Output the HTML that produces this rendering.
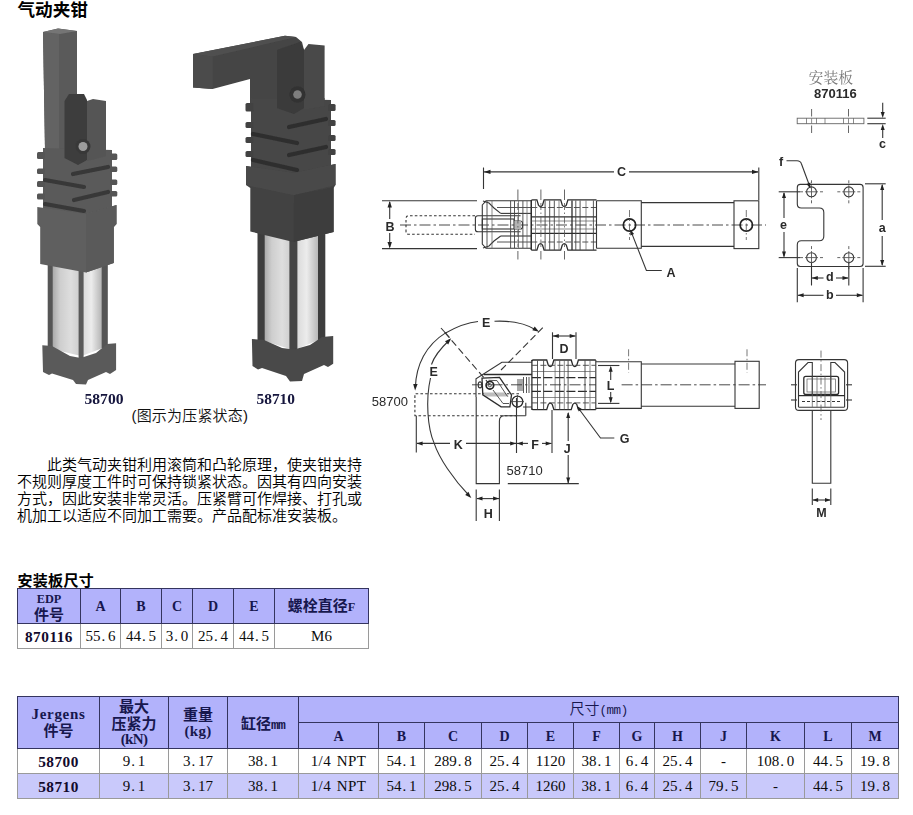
<!DOCTYPE html>
<html lang="zh-CN">
<head>
<meta charset="utf-8">
<title>气动夹钳</title>
<style>
html,body{margin:0;padding:0;background:#fff;}
body{width:913px;height:815px;position:relative;overflow:hidden;font-family:"Liberation Serif","Noto Serif CJK SC",serif;color:#000;}
.abs{position:absolute;white-space:nowrap;}
#title{left:17.5px;top:-2.3px;font:bold 17.6px/24px "Liberation Sans","Noto Sans CJK SC",sans-serif;}
#art{position:absolute;left:0;top:0;width:913px;height:560px;}
#para{position:absolute;left:17px;top:457px;width:350px;font-family:"Liberation Sans","Noto Sans CJK SC",sans-serif;font-weight:350;font-size:15px;line-height:16.9px;white-space:nowrap;letter-spacing:0;}
#cap1{left:17.5px;top:571.5px;letter-spacing:.3px;font:bold 15px/18px "Liberation Sans","Noto Sans CJK SC",sans-serif;}
table{position:absolute;border-collapse:collapse;table-layout:fixed;font:15px/17px "Liberation Serif","Noto Sans CJK SC",serif;color:#0c0c0c;}
td,th{border:1px solid #9a9a9a;padding:0;text-align:center;vertical-align:middle;overflow:hidden;white-space:nowrap;font-weight:normal;}
th{background:#b2b2fb;border-color:#34345e;font-weight:bold;color:#17174e;font-family:"Liberation Serif","Noto Sans CJK SC",serif;}
th.dim{font-weight:350;}
td.b{font-weight:bold;color:#120a2c;letter-spacing:.5px;font-size:15.3px;}
td.npt{letter-spacing:.4px;word-spacing:1.5px;}
.p{display:inline-block;width:7.5px;text-align:left;text-indent:1px;}
.w{position:relative;top:1.3px;}
.w2{position:relative;top:2px;}
.w0{position:relative;top:0;}
th.three{line-height:16.5px;}
.hl{font-size:14px;}
#t1 th.two{line-height:16px;}
.sq{font-size:12.3px;}
.jg{letter-spacing:.7px;}
.kn{letter-spacing:-.7px;position:relative;top:-1.5px;}
.kg{letter-spacing:.3px;position:relative;top:-1px;}
.mm{font:bold 13px "Liberation Mono",monospace;letter-spacing:-.7px;}
.pmm{font:12.5px "Liberation Mono",monospace;letter-spacing:-.4px;}
#t1{left:17px;top:588px;width:351px;}
#t2{left:17px;top:696px;width:881px;}
#t2 tr.alt td{background:#c9c9fb;}
#art path,#art rect,#art circle{vector-effect:none}
#art .ds{stroke-dasharray:2.6 2.2;}
#art .ds2{stroke-dasharray:3 2;}
#art .dl{stroke-dasharray:7 3.5;}
#art .cl{stroke-dasharray:11 3 2.5 3;stroke-width:.9;}
#art .cl2{stroke-dasharray:7 2.5 1.5 2.5;stroke-width:.8;stroke:#555;}
#art .cl3{stroke-dasharray:6 2 1 2;stroke-width:.8;stroke:#555;}
#art .tk{stroke-width:.9;stroke:#555;}
#art .th{stroke-width:.7;stroke:#5a5a5a;}
#art .hv{stroke-width:1.3;stroke:#2c2c2c;}
#art .hv2{stroke-width:1.7;stroke:#222;}
#art .hvd{stroke-width:1.4;stroke:#2c2c2c;stroke-dasharray:9 2.5;}
#art .lt{stroke-width:.9;stroke:#666;}
#art .md{stroke-width:.9;stroke:#444;}
#art .mdd{stroke-width:.9;stroke:#444;stroke-dasharray:6 2.5;}
#art .ah{fill:#222;stroke:none;}
</style>
</head>
<body>
<svg id="art" viewBox="0 0 913 560" width="913" height="560">
<defs>
<linearGradient id="cylA" x1="0" x2="1" y1="0" y2="0"><stop offset="0" stop-color="#a6a6a6"/><stop offset="0.3" stop-color="#cecece"/><stop offset="0.7" stop-color="#dedede"/><stop offset="1" stop-color="#cfcfcf"/></linearGradient>
<linearGradient id="cylB" x1="0" x2="1" y1="0" y2="0"><stop offset="0" stop-color="#dadada"/><stop offset="0.45" stop-color="#ececec"/><stop offset="1" stop-color="#b6b6b6"/></linearGradient>
<filter id="soft" x="-5%" y="-5%" width="110%" height="110%"><feGaussianBlur stdDeviation="0.7"/></filter>
<filter id="soft2" x="-5%" y="-5%" width="110%" height="110%"><feGaussianBlur stdDeviation="0.35"/></filter>
</defs>
<g id="clamp1" filter="url(#soft)">
<!-- arm -->
<polygon points="43,32 58,28.5 77,31 77,150 45,150" fill="#5a5a5a"/>
<polygon points="43,32 59,34 59,150 45,150" fill="#636363"/>
<polygon points="43,32 58,28.5 77,31 60,34" fill="#747474"/>
<!-- finned body -->
<polygon points="43,148 112,150 112,218 43,218" fill="#5a5a5a"/>
<g fill="#545454">
<rect x="37" y="152" width="8" height="7" rx="1.5"/><rect x="37" y="168.5" width="8" height="5.5" rx="1.5"/><rect x="37" y="181" width="8" height="6" rx="1.5"/><rect x="37" y="193.5" width="8" height="6" rx="1.5"/>
<rect x="110" y="153.5" width="7.3" height="6.5" rx="1.5"/><rect x="110" y="166.5" width="7.3" height="5.5" rx="1.5"/><rect x="110" y="179.5" width="7.3" height="5.5" rx="1.5"/><rect x="110" y="191" width="7.3" height="5.5" rx="1.5"/>
</g>
<!-- bracket -->
<polygon points="64.5,101 69,94 84,94 87,100 87,160 78,165 64.5,158" fill="#3c3c3c"/>
<polygon points="87,101 93,99 106,101 106,156 87,161" fill="#555"/>
<circle cx="83" cy="146.5" r="7.5" fill="#383838"/>
<circle cx="83" cy="146.5" r="4.5" fill="#9c9c9c"/>
<g stroke="#383838" stroke-width="4.2" fill="none" stroke-linecap="round">
<path d="M73,174 L108,167"/><path d="M45,180 L84,187"/><path d="M74,200 L108,192"/><path d="M45,204 L84,211"/>
</g>
<!-- cylinder -->
<polygon points="52,262 79,268 79,355.5 52,349" fill="url(#cylA)"/>
<polygon points="83,268 101.5,261 101.5,348.5 83,355.5" fill="url(#cylB)"/>
<rect x="47.7" y="261" width="5" height="88" fill="#555"/>
<rect x="78.6" y="267" width="5" height="92" fill="#5a5a5a"/>
<rect x="101.5" y="260" width="6.3" height="88" fill="#555"/>
<!-- block -->
<polygon points="37.3,207 86,214 116.5,205 116.5,224 113.8,227 113.8,263 86,272.5 40.2,264 40.2,227 37.3,224" fill="#5f5f5f"/>
<polygon points="86,214 116.5,205 116.5,224 113.8,227 113.8,263 86,272.5" fill="#5a5a5a"/>
<!-- base -->
<polygon points="42.3,345.2 52,346 70,356 80.7,358 96,353 107,344 116.1,343.2 116.1,370 110,374 106,372 88,380 86,384.5 76,384 73,380 52,373.5 49,375 43,372" fill="#5a5a5a"/>
</g>
<g id="clamp2" filter="url(#soft)">
<!-- arm -->
<polygon points="193,54 285,35.8 296,37 302,42 304,50 304,104 250,104 250,79 212.5,89 193,87.5" fill="#444"/>
<polygon points="193,54 212.5,56.5 212.5,89 193,87.5" fill="#4c4c4c"/>
<polygon points="193,54 285,35.8 296,37 212.5,56.5" fill="#505050"/>
<polygon points="277,50 300,42 304,50 304,104 277,104" fill="#3a3a3a"/>
<!-- bracket right -->
<polygon points="304,50 308.5,44 324.6,45.5 324.6,106 304,106" fill="#484848"/>
<!-- finned body -->
<polygon points="251,98 331,100 331,178 251,178" fill="#464646"/>
<g fill="#424242">
<rect x="245.5" y="103" width="8" height="8.5" rx="1.5"/><rect x="245.5" y="122" width="8" height="6" rx="1.5"/><rect x="245.5" y="137" width="8" height="6" rx="1.5"/><rect x="245.5" y="151" width="8" height="6" rx="1.5"/>
<rect x="328" y="104" width="7.6" height="7" rx="1.5"/><rect x="328" y="120" width="7.6" height="6" rx="1.5"/><rect x="328" y="135" width="7.6" height="6" rx="1.5"/><rect x="328" y="149" width="7.6" height="6" rx="1.5"/>
</g>
<polygon points="277,98 304,98 304,108 294,114 277,108" fill="#3a3a3a"/>
<polygon points="304,98 324.6,98 324.6,106 304,110" fill="#484848"/>
<circle cx="297.5" cy="94.5" r="8" fill="#303030"/>
<circle cx="297.5" cy="94.5" r="4.3" fill="#7d7d7d"/>
<g stroke="#2e2e2e" stroke-width="4.2" fill="none" stroke-linecap="round">
<path d="M289,127 L326,119"/><path d="M253,134 L297,143"/><path d="M289,155 L326,147"/><path d="M253,160 L297,170"/>
</g>
<!-- cylinder -->
<polygon points="264,231 290,238 290,349 264,341" fill="url(#cylA)"/>
<polygon points="297,238 318.5,232 318.5,340 297,349" fill="url(#cylB)"/>
<rect x="257.5" y="229" width="7.2" height="112" fill="#3e3e3e"/>
<rect x="289.4" y="237" width="8" height="114" fill="#444"/>
<rect x="318" y="230" width="7.3" height="110" fill="#3e3e3e"/>
<!-- block -->
<polygon points="246,166 294,173 335.5,164 335.5,185 333.6,188 333.6,232 293.4,242 250.3,231.5 250.3,188 246,185" fill="#434343"/>
<polygon points="246,166 294,173 335.5,164 335.5,185 294,195 246,185" fill="#4a4a4a"/>
<polygon points="294,195 333.6,187 333.6,232 293.4,242" fill="#3e3e3e"/>
<!-- base -->
<polygon points="251.9,339 264,340 282,348 294,349.5 310,345 322,337 333.2,336 333.2,363.8 328,367 324,365 304,374 302,381 290,381.5 286,376 262,368 258,369.5 252.5,366" fill="#484848"/>
</g>
<g font-family="'Liberation Serif',serif" font-weight="bold" font-size="14" fill="#14143c" filter="url(#soft2)">
<text x="84.5" y="403.8" textLength="39" lengthAdjust="spacingAndGlyphs">58700</text>
<text x="256.5" y="403.8" textLength="38.5" lengthAdjust="spacingAndGlyphs">58710</text>
</g>
<text x="131.5" y="421" font-family="'Liberation Sans','Noto Sans CJK SC',sans-serif" font-weight="350" font-size="15" fill="#111" textLength="116.5" lengthAdjust="spacing">(图示为压紧状态)</text>

<g id="drawing" fill="none" stroke="#363636" stroke-width="1.1" filter="url(#soft2)">
<path d="M382,200.8L477,200.8"/>
<path d="M382,248.6L477,248.6"/>
<path d="M389.7,202L389.7,219"/>
<path d="M389.7,233L389.7,247"/>
<polygon class="ah" points="389.7,201.0 391.9,207.5 387.5,207.5"/>
<polygon class="ah" points="389.7,248.4 387.5,241.9 391.9,241.9"/>
<path class="ds" d="M475,215.7H409Q406,215.7 406,218.7V231.3Q406,234.3 409,234.3H475"/>
<path class="cl" d="M400,225L766,225"/>
<path d="M483.5,167.5L483.5,189"/>
<path d="M758.8,167.5L758.8,200"/>
<path d="M484,171.9L614,171.9"/>
<path d="M629,171.9L758,171.9"/>
<polygon class="ah" points="484.0,171.9 490.5,169.7 490.5,174.1"/>
<polygon class="ah" points="758.5,171.9 752.0,174.1 752.0,169.7"/>
<path d="M482.3,205L486,200.8H531.3V248.3H486L482.3,244Z"/>
<path d="M483,201L489,203L494,208L500.7,213.4"/>
<path d="M483,248L489,246L494,241L500.7,236"/>
<path d="M520.6,215.7H478Q475.4,215.7 475.4,218V229.5Q475.4,231.8 478,231.8H520.6"/>
<rect x="482.3" y="219" width="31.7" height="10"/>
<path d="M514,221H520Q522.5,221 522.5,223V227Q522.5,229 520,229H514"/>
<path d="M500.7,213.4L531,213.4"/>
<path d="M500.7,236L531,236"/>
<path class="md" d="M497,207.5L531,207.5"/>
<path class="md" d="M497,242L531,242"/>
<path class="md" d="M487,201L487,248"/>
<path class="md" d="M510.6,201L510.6,248"/>
<path class="md" d="M514.5,201L514.5,248"/>
<path class="md" d="M522.9,201L522.9,248"/>
<path class="th" d="M492,201L492,248"/>
<path class="th" d="M518.5,201L518.5,248"/>
<path class="th" d="M527,201L527,248"/>
<rect x="514.5" y="221" width="6.5" height="8" fill="#b4b4b4" stroke="none"/>
<path class="hv" d="M531.3,201.1Q531.3,199.9 532.5,199.9H536.9L538.5,205.1Q540.5,208.025 542.5,205.1L544.1,199.9H560.6999999999999L562.3,205.1Q564.3,208.025 566.3,205.1L567.9,199.9H596.5"/>
<path class="hv" d="M531.3,249.0Q531.3,250.2 532.5,250.2H536.9L538.5,245.0Q540.5,242.075 542.5,245.0L544.1,250.2H560.6999999999999L562.3,245.0Q564.3,242.075 566.3,245.0L567.9,250.2H596.5"/>
<path class="hv" d="M531.3,200L531.3,250"/>
<path d="M596.5,200.8L596.5,248.3"/>
<path class="hv" d="M531.3,216.9L596,216.9"/>
<path class="hv" d="M531.3,233.3L596,233.3"/>
<path class="mdd" d="M531.3,207.5L596,207.5"/>
<path class="mdd" d="M531.3,242L596,242"/>
<path class="th" d="M531.3,221L596,221"/>
<path class="th" d="M531.3,229L596,229"/>
<path class="md" d="M545.1,200.5L545.1,250"/>
<path class="md" d="M549.7,200.5L549.7,250"/>
<path class="md" d="M554.3,200.5L554.3,250"/>
<path class="md" d="M575.8,200.5L575.8,250"/>
<path class="md" d="M580.1,200.5L580.1,250"/>
<path class="md" d="M593.4,200.5L593.4,250"/>
<path class="th" d="M535.5,200.5L535.5,250"/>
<path class="th" d="M559,200.5L559,250"/>
<path class="th" d="M586,200.5L586,250"/>
<path class="hv" d="M572,200.5L572,250"/>
<path class="tk" d="M517.9,189.5L517.9,200"/>
<path class="tk" d="M517.9,251L517.9,259.5"/>
<path class="cl2" d="M517.9,203L517.9,247"/>
<path class="tk" d="M540.9,189.5L540.9,200"/>
<path class="tk" d="M540.9,251L540.9,259.5"/>
<path class="cl2" d="M540.9,203L540.9,247"/>
<path class="tk" d="M564.5,189.5L564.5,200"/>
<path class="tk" d="M564.5,251L564.5,259.5"/>
<path class="cl2" d="M564.5,203L564.5,247"/>
<path d="M596.5,200.8H641.3V248.3H596.5"/>
<path d="M641.3,202.6H734M641.3,246.4H734"/>
<rect x="734" y="200.8" width="24.8" height="47.8"/>
<circle class="hv2" cx="629.5" cy="225" r="6.2"/>
<circle class="hv2" cx="746.3" cy="225" r="6.2"/>
<path class="cl2" d="M629.5,210L629.5,240"/>
<path class="cl2" d="M746.3,210L746.3,240"/>
<path d="M630.7,230.6L646.4,270.5H661.8"/>
<polygon class="ah" points="630.2,229.5 634.1,233.9 630.4,235.4"/>
<rect class="lt" x="797.2" y="118.2" width="66.7" height="5.5"/>
<path class="th" d="M806.5,118.2L806.5,123.7"/>
<path class="th" d="M816.5,118.2L816.5,123.7"/>
<path class="th" d="M825,118.2L825,123.7"/>
<path class="th" d="M843.5,118.2L843.5,123.7"/>
<path class="th" d="M853.5,118.2L853.5,123.7"/>
<path class="tk" d="M811.6,109L811.6,116.5"/>
<path class="tk" d="M811.6,125.5L811.6,133"/>
<path class="th" d="M811.6,118.5L811.6,123.5"/>
<path class="tk" d="M848.5,109L848.5,116.5"/>
<path class="tk" d="M848.5,125.5L848.5,133"/>
<path class="th" d="M848.5,118.5L848.5,123.5"/>
<path d="M867.3,118.2L885.7,118.2"/>
<path d="M867.3,123.7L885.7,123.7"/>
<path d="M882.7,102.8L882.7,112"/>
<path d="M882.7,130L882.7,138"/>
<polygon class="ah" points="882.7,118.0 880.7,112.0 884.7,112.0"/>
<polygon class="ah" points="882.7,124.0 884.7,130.0 880.7,130.0"/>
<path d="M800.3,184.4H860.1Q863.1,184.4 863.1,187.4V263.5Q863.1,266.5 860.1,266.5H800.3Q797.3,266.5 797.3,263.5V244.7Q797.3,240.7 801.3,240.7H819.3Q823.8,240.7 823.8,236.2V212.5Q823.8,208 819.3,208H801.3Q797.3,208 797.3,204V187.4Q797.3,184.4 800.3,184.4Z"/>
<circle cx="811.5" cy="191.8" r="4.9"/>
<path class="tk" d="M805,191.8L818,191.8"/>
<path class="tk" d="M811.5,185.3L811.5,198.3"/>
<path class="tk" d="M800,191.8L803,191.8"/>
<path class="tk" d="M820,191.8L823,191.8"/>
<path class="tk" d="M811.5,180.3L811.5,183.3"/>
<path class="tk" d="M811.5,200.3L811.5,203.3"/>
<circle cx="848.8" cy="191.8" r="4.9"/>
<path class="tk" d="M842.3,191.8L855.3,191.8"/>
<path class="tk" d="M848.8,185.3L848.8,198.3"/>
<path class="tk" d="M837.3,191.8L840.3,191.8"/>
<path class="tk" d="M857.3,191.8L860.3,191.8"/>
<path class="tk" d="M848.8,180.3L848.8,183.3"/>
<path class="tk" d="M848.8,200.3L848.8,203.3"/>
<circle cx="811.5" cy="257.6" r="4.9"/>
<path class="tk" d="M805,257.6L818,257.6"/>
<path class="tk" d="M811.5,251.1L811.5,264.1"/>
<path class="tk" d="M800,257.6L803,257.6"/>
<path class="tk" d="M820,257.6L823,257.6"/>
<path class="tk" d="M811.5,246.1L811.5,249.1"/>
<path class="tk" d="M811.5,266.1L811.5,269.1"/>
<circle cx="848.8" cy="257.6" r="4.9"/>
<path class="tk" d="M842.3,257.6L855.3,257.6"/>
<path class="tk" d="M848.8,251.1L848.8,264.1"/>
<path class="tk" d="M837.3,257.6L840.3,257.6"/>
<path class="tk" d="M857.3,257.6L860.3,257.6"/>
<path class="tk" d="M848.8,246.1L848.8,249.1"/>
<path class="tk" d="M848.8,266.1L848.8,269.1"/>
<path d="M778.7,191.8L800,191.8"/>
<path d="M778.7,257.6L800,257.6"/>
<path d="M784,193L784,218"/>
<path d="M784,232L784,256.5"/>
<polygon class="ah" points="784.0,192.0 786.0,198.0 782.0,198.0"/>
<polygon class="ah" points="784.0,257.4 782.0,251.4 786.0,251.4"/>
<path d="M865,183.8L885.7,183.8"/>
<path d="M865,266.3L885.7,266.3"/>
<path d="M882.2,185L882.2,220"/>
<path d="M882.2,236L882.2,265"/>
<polygon class="ah" points="882.2,184.0 884.2,190.0 880.2,190.0"/>
<polygon class="ah" points="882.2,266.1 880.2,260.1 884.2,260.1"/>
<path d="M811.5,263L811.5,285.5"/>
<path d="M848.8,263L848.8,285.5"/>
<path d="M812,278L823.5,278"/>
<path d="M836,278L848,278"/>
<polygon class="ah" points="811.8,278.0 817.8,276.0 817.8,280.0"/>
<polygon class="ah" points="848.5,278.0 842.5,280.0 842.5,276.0"/>
<path d="M797.3,268L797.3,302.2"/>
<path d="M863.1,268L863.1,302.2"/>
<path d="M798,295.3L823.5,295.3"/>
<path d="M836,295.3L862.5,295.3"/>
<polygon class="ah" points="797.6,295.3 803.6,293.3 803.6,297.3"/>
<polygon class="ah" points="862.8,295.3 856.8,297.3 856.8,293.3"/>
<path d="M786.5,160.8H797Q800.5,160.8 801.5,164L810,187"/>
<polygon class="ah" points="810.3,188.5 806.5,184.0 810.3,182.6"/>
<path class="ds" d="M519,393.8H414.9V415.7H519"/>
<path class="dl" d="M490.5,385.4L442.3,329.6"/>
<path class="dl" d="M501,370L545.2,325.2"/>
<path d="M441,328L449.5,337.5"/>
<path d="M415.3,388C416,365 426,345 445.6,332.9C458,326 468,322.5 478,321.5"/>
<path d="M494.5,321.2C510,320.5 526,323.5 537,330.5"/>
<polygon class="ah" points="415.1,390.5 413.2,383.9 417.6,384.1"/>
<polygon class="ah" points="539.0,331.8 532.3,330.2 534.7,326.5"/>
<path d="M450,339.5C440,349 433.5,358 431.5,364.5"/>
<path d="M430.5,378C425.5,400 427.5,428 434.2,443.4C439,458 453,479 469.5,496"/>
<polygon class="ah" points="451.2,338.3 448.2,344.5 445.0,341.3"/>
<polygon class="ah" points="471.3,498.0 465.2,494.9 468.4,491.8"/>
<rect x="517" y="379" width="6.4" height="12" fill="#a8a8a8" stroke="none"/>
<polygon points="483,392.5 505,392.5 509,396.5 486,396.5" fill="#bdbdbd" stroke="none"/>
<path d="M476,397V378.9L501.9,362.2H531.9"/>
<path class="hv" d="M483.6,374.5L531.9,374.5"/>
<path class="hv" d="M482,378.1L499.5,377.3L511.5,394.9L509.9,406.8H501.1L482.8,394.9Z"/>
<path class="md" d="M488.5,380.3L497,380.6L507.5,396.5M493,390L503,403.5H509"/>
<circle class="hv2" cx="489.9" cy="385.3" r="3.8"/>
<circle class="md" cx="489.9" cy="385.3" r="1.6"/>
<ellipse cx="480" cy="384.9" rx="1.8" ry="3" />
<circle class="hv" cx="517.4" cy="401.6" r="5.4"/>
<path class="md" d="M511,401.6L524,401.6"/>
<path class="md" d="M517.4,395L517.4,408"/>
<path d="M523,407H531.9M525.8,402.8V415.8"/>
<path class="md" d="M523.5,377V393M526.5,377V393M529,377V393"/>
<path class="hv" d="M531.9,361.2Q531.9,360 533.1,360H546.6999999999999L548.3,365.2Q550.3,368.125 552.3,365.2L553.9,360H571.1999999999999L572.8,365.2Q574.8,368.125 576.8,365.2L578.4,360H595.8"/>
<path class="hv" d="M531.9,408.5Q531.9,409.7 533.1,409.7H546.6999999999999L548.3,404.5Q550.3,401.575 552.3,404.5L553.9,409.7H571.1999999999999L572.8,404.5Q574.8,401.575 576.8,404.5L578.4,409.7H595.8"/>
<path class="hv" d="M531.9,360L531.9,409.7"/>
<path d="M595.8,360L595.8,409.7"/>
<path class="hvd" d="M531.9,377.6L595.8,377.6"/>
<path class="hvd" d="M531.9,391.4L595.8,391.4"/>
<path class="mdd" d="M531.9,365.3L595.8,365.3"/>
<path class="mdd" d="M531.9,402.9L595.8,402.9"/>
<path class="th" d="M531.9,371.5L595.8,371.5"/>
<path class="th" d="M531.9,397.5L595.8,397.5"/>
<path class="md" d="M537.5,360.5L537.5,409.5"/>
<path class="md" d="M543.6,360.5L543.6,409.5"/>
<path class="md" d="M559.7,360.5L559.7,409.5"/>
<path class="md" d="M568.1,360.5L568.1,409.5"/>
<path class="md" d="M585,360.5L585,409.5"/>
<path class="th" d="M555.1,360.5L555.1,409.5"/>
<path class="th" d="M564.3,360.5L564.3,409.5"/>
<path class="th" d="M590,360.5L590,409.5"/>
<path class="cl" d="M472,384.8L596,384.8"/>
<path class="cl" d="M621.6,384.8L766,384.8"/>
<path d="M595.8,361.8H641.3V408.4H595.8"/>
<path d="M641.3,364H735M641.3,406.2H735"/>
<rect x="735" y="361.3" width="24.2" height="47.1"/>
<path class="cl2" d="M628.6,349.3L628.6,372.7"/>
<path class="cl2" d="M747,349.3L747,372.7"/>
<path d="M552.5,332.3L552.5,359"/>
<path d="M576,332.3L576,359"/>
<path d="M553,336L575.5,336"/>
<polygon class="ah" points="552.8,336.0 558.8,334.0 558.8,338.0"/>
<polygon class="ah" points="575.7,336.0 569.7,338.0 569.7,334.0"/>
<path d="M598,365.5L619.4,365.5"/>
<path d="M598,403.4L619.4,403.4"/>
<path d="M610.7,367L610.7,380"/>
<path d="M610.7,392L610.7,402"/>
<polygon class="ah" points="610.7,365.8 612.7,371.8 608.7,371.8"/>
<polygon class="ah" points="610.7,403.2 608.7,397.2 612.7,397.2"/>
<path d="M577.5,407L600.5,438H614.3"/>
<polygon class="ah" points="577.0,405.9 581.9,409.1 578.7,411.5"/>
<path d="M476.2,397V483.6H499.4V421Q499.4,415.8 504.5,415.8H525.8"/>
<path d="M416.3,415.7L416.3,452.6"/>
<path d="M516.5,398L516.5,453"/>
<path d="M552,410L552,453"/>
<path d="M417,443.4L450,443.4"/>
<path d="M466,443.4L516,443.4"/>
<polygon class="ah" points="416.6,443.4 422.6,441.4 422.6,445.4"/>
<polygon class="ah" points="516.2,443.4 510.2,445.4 510.2,441.4"/>
<path d="M517,443.4L528,443.4"/>
<path d="M542,443.4L551.5,443.4"/>
<polygon class="ah" points="516.8,443.4 522.8,441.4 522.8,445.4"/>
<polygon class="ah" points="551.7,443.4 545.7,445.4 545.7,441.4"/>
<path d="M568.2,413L568.2,441"/>
<path d="M568.2,455L568.2,483"/>
<polygon class="ah" points="568.2,412.0 570.2,418.0 566.2,418.0"/>
<polygon class="ah" points="568.2,483.4 566.2,477.4 570.2,477.4"/>
<path d="M507.8,483.6L578.8,483.6"/>
<path d="M476.2,489.4L476.2,521"/>
<path d="M499.4,489.4L499.4,521"/>
<path d="M477,498.6L499,498.6"/>
<polygon class="ah" points="476.5,498.6 482.5,496.6 482.5,500.6"/>
<polygon class="ah" points="499.1,498.6 493.1,500.6 493.1,496.6"/>
<path d="M799,359.6H844.1Q847.6,359.6 847.6,363.1V406.9Q847.6,410.4 844.1,410.4H799Q795.5,410.4 795.5,406.9V363.1Q795.5,359.6 799,359.6Z"/>
<path d="M812.3,410.4V483.3H830.8V410.4"/>
<path d="M798.5,407V372L808,362.5H812.3V395.7M844.6,407V372L835,362.5H830.8V395.7"/>
<rect class="hv" x="803.8" y="376.4" width="34.8" height="18" rx="2"/>
<rect class="th" x="807" y="379" width="28.5" height="13"/>
<path class="hv" d="M798.5,395.7L844.6,395.7"/>
<path d="M798.5,407.3L844.6,407.3"/>
<path class="ds2" d="M802,401.5L841,401.5"/>
<path class="th" d="M812.3,376.4L812.3,407"/>
<path class="th" d="M817,376.4L817,407"/>
<path class="th" d="M825,376.4L825,407"/>
<path class="th" d="M830.8,376.4L830.8,407"/>
<path class="cl2" d="M821,350.6L821,420"/>
<path d="M791,384.8L797,384.8"/>
<path d="M846,384.8L852,384.8"/>
<path d="M791,400L797,400"/>
<path d="M846,400L852,400"/>
<path d="M812.3,488.4L812.3,505"/>
<path d="M830.8,488.4L830.8,505"/>
<path d="M813,500L830,500"/>
<polygon class="ah" points="812.6,500.0 818.1,498.0 818.1,502.0"/>
<polygon class="ah" points="830.5,500.0 825.0,502.0 825.0,498.0"/>
</g>
<g id="labels" font-family="'Liberation Sans',sans-serif" font-weight="bold" font-size="12.5" fill="#2a2a2a" text-anchor="middle" filter="url(#soft2)">
<text x="389.9" y="230.8">B</text>
<text x="621.6" y="176.2">C</text>
<text x="671" y="276.8">A</text>
<text x="882.5" y="148.2">c</text>
<text x="781" y="166.3">f</text>
<text x="783.6" y="228.8">e</text>
<text x="882.3" y="232.2">a</text>
<text x="829.7" y="281.4">d</text>
<text x="829.7" y="299">b</text>
<text x="486.1" y="326.8">E</text>
<text x="433.6" y="375.7">E</text>
<text x="563.9" y="352.6">D</text>
<text x="610.6" y="390.2">L</text>
<text x="624.7" y="442.8">G</text>
<text x="458.3" y="448.6">K</text>
<text x="535.1" y="448.6">F</text>
<text x="567.2" y="452.6">J</text>
<text x="488.3" y="517.8">H</text>
<text x="821.5" y="516.8">M</text>
<text x="835.3" y="98.3" font-size="13">870116</text>
<text x="389.8" y="405.8" font-weight="normal" font-size="13">58700</text>
<text x="524.7" y="475" font-weight="normal" font-size="13">58710</text>
<text x="830.8" y="83.3" font-family="'Liberation Serif','Noto Serif CJK SC',serif" font-weight="normal" font-size="14.8" fill="#7a7a7a">安装板</text>
</g>

</svg>
<div id="title" class="abs">气动夹钳</div>
<div id="para">　　此类气动夹钳利用滚筒和凸轮原理，使夹钳夹持<br>不规则厚度工件时可保持锁紧状态。因其有四向安装<br>方式，因此安装非常灵活。压紧臂可作焊接、打孔或<br>机加工以适应不同加工需要。产品配标准安装板。</div>
<div id="cap1" class="abs">安装板尺寸</div>
<table id="t1">
<colgroup><col style="width:63px"><col style="width:40px"><col style="width:41px"><col style="width:31px"><col style="width:41px"><col style="width:41px"><col style="width:94px"></colgroup>
<tr style="height:35px"><th class="two"><div class="w0"><span class="sq">EDP</span><br>件号</div></th><th><div class="w0 hl">A</div></th><th><div class="w0 hl">B</div></th><th><div class="w0 hl">C</div></th><th><div class="w0 hl">D</div></th><th><div class="w0 hl">E</div></th><th><div class="w">螺栓直径<span class="sq">F</span></div></th></tr>
<tr style="height:25px"><td class="b">870116</td><td>55<span class="p">.</span>6</td><td>44<span class="p">.</span>5</td><td>3<span class="p">.</span>0</td><td>25<span class="p">.</span>4</td><td>44<span class="p">.</span>5</td><td>M6</td></tr>
</table>
<table id="t2">
<colgroup><col style="width:82px"><col style="width:69px"><col style="width:59px"><col style="width:71px"><col style="width:80px"><col style="width:46px"><col style="width:57px"><col style="width:46px"><col style="width:46px"><col style="width:46px"><col style="width:35px"><col style="width:46px"><col style="width:46px"><col style="width:58px"><col style="width:47px"><col style="width:47px"></colgroup>
<tr style="height:26px"><th rowspan="2" class="two"><div class="w0"><span class="jg">Jergens</span><br>件号</div></th><th rowspan="2" class="three"><div class="w">最大<br>压紧力<br><span class="kn">(kN)</span></div></th><th rowspan="2" class="two"><div class="w">重量<br><span class="kg">(kg)</span></div></th><th rowspan="2"><div class="w2">缸径<span class="mm">mm</span></div></th><th colspan="12" class="dim"><div class="w0">尺寸<span class="pmm">(mm)</span></div></th></tr>
<tr style="height:26px"><th><div class="w hl">A</div></th><th><div class="w hl">B</div></th><th><div class="w hl">C</div></th><th><div class="w hl">D</div></th><th><div class="w hl">E</div></th><th><div class="w hl">F</div></th><th><div class="w hl">G</div></th><th><div class="w hl">H</div></th><th><div class="w hl">J</div></th><th><div class="w hl">K</div></th><th><div class="w hl">L</div></th><th><div class="w hl">M</div></th></tr>
<tr style="height:25px"><td class="b">58700</td><td>9<span class="p">.</span>1</td><td>3<span class="p">.</span>17</td><td>38<span class="p">.</span>1</td><td class="npt">1/4 NPT</td><td>54<span class="p">.</span>1</td><td>289<span class="p">.</span>8</td><td>25<span class="p">.</span>4</td><td>1120</td><td>38<span class="p">.</span>1</td><td>6<span class="p">.</span>4</td><td>25<span class="p">.</span>4</td><td>-</td><td>108<span class="p">.</span>0</td><td>44<span class="p">.</span>5</td><td>19<span class="p">.</span>8</td></tr>
<tr style="height:25px" class="alt"><td class="b">58710</td><td>9<span class="p">.</span>1</td><td>3<span class="p">.</span>17</td><td>38<span class="p">.</span>1</td><td class="npt">1/4 NPT</td><td>54<span class="p">.</span>1</td><td>298<span class="p">.</span>5</td><td>25<span class="p">.</span>4</td><td>1260</td><td>38<span class="p">.</span>1</td><td>6<span class="p">.</span>4</td><td>25<span class="p">.</span>4</td><td>79<span class="p">.</span>5</td><td>-</td><td>44<span class="p">.</span>5</td><td>19<span class="p">.</span>8</td></tr>
</table>
</body>
</html>
